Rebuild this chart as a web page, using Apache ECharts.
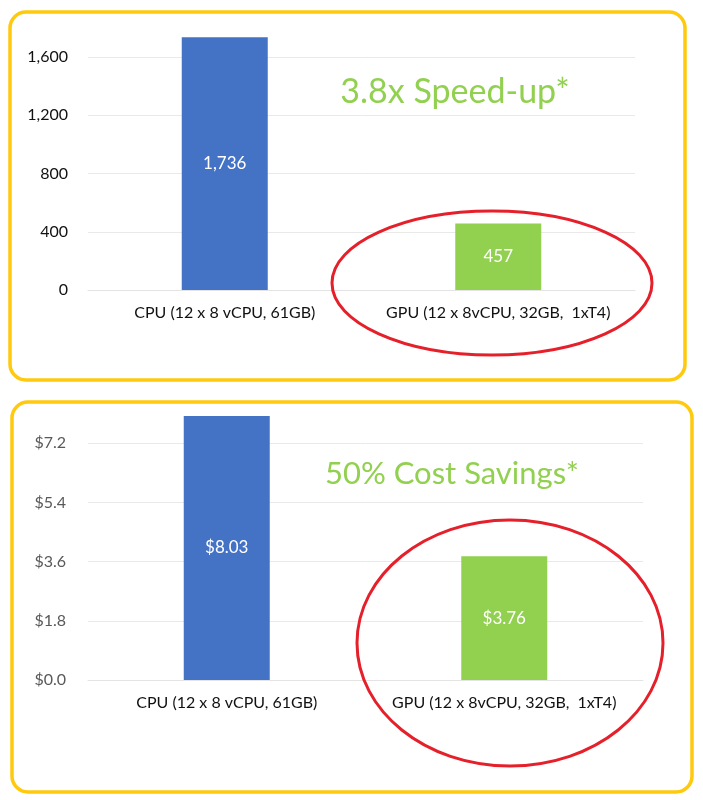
<!DOCTYPE html>
<html>
<head>
<meta charset="utf-8">
<title>CPU vs GPU</title>
<script src="https://cdn.jsdelivr.net/npm/echarts@6/dist/echarts.min.js"></script>
<style>
  html, body { margin: 0; padding: 0; background: #ffffff; }
  #main { width: 703px; height: 800px; }
</style>
</head>
<body>
<div id="main"></div>
<script>
// data
const categories = ["CPU (12 x 8 vCPU, 61GB)", "GPU (12 x 8vCPU, 32GB,  1xT4)"];
const runtimeValues = [1736, 457];
const costValues = [8.03, 3.76];
const barColors = ["#4472C4", "#92D050"];
const speedNote = "3.8x Speed-up*";
const costNote = "50% Cost Savings*";

const FONT = "Lato";
const gold = "#FFC90E";
const red = "#E5202A";

function barData(values) {
  return values.map((v, i) => ({ value: v, itemStyle: { color: barColors[i] } }));
}

const xAxisBase = {
  type: "category",
  data: categories,
  axisTick: { show: false },
  axisLine: { lineStyle: { color: "#e3e3e3", width: 1 } },
  axisLabel: {
    interval: 0,
    hideOverlap: false,
    color: "#111111",
    fontSize: 16,
    fontFamily: FONT,
    margin: 15,
  },
};

const yAxisBase = {
  type: "value",
  min: 0,
  axisLine: { show: false },
  axisTick: { show: false },
  splitLine: { showMaxLine: false, lineStyle: { color: "#e9e9e9", width: 1 } },
};

const myChart = echarts.init(document.getElementById("main"));
const option = {
  animation: false,
  grid: [
    { left: 88, right: 68, top: 28, bottom: 510 },
    { left: 88, right: 60, top: 384, bottom: 120 },
  ],
  xAxis: [
    Object.assign({ gridIndex: 0 }, xAxisBase),
    Object.assign({ gridIndex: 1 }, xAxisBase),
  ],
  yAxis: [
    Object.assign({}, yAxisBase, {
      gridIndex: 0,
      max: 1800,
      interval: 400,
      axisLabel: {
        showMaxLabel: false,
        color: "#111111",
        fontSize: 16,
        fontFamily: FONT,
        margin: 20,
        formatter: (v) => v.toLocaleString("en-US"),
      },
    }),
    Object.assign({}, yAxisBase, {
      gridIndex: 1,
      max: 9,
      interval: 1.8,
      axisLabel: {
        showMaxLabel: false,
        color: "#595959",
        fontSize: 16,
        fontFamily: FONT,
        margin: 22,
        formatter: (v) => "$" + v.toFixed(1),
      },
    }),
  ],
  series: [
    {
      type: "bar",
      xAxisIndex: 0,
      yAxisIndex: 0,
      barWidth: 86,
      data: barData(runtimeValues),
      label: {
        show: true,
        position: "inside",
        color: "#ffffff",
        fontSize: 17,
        fontFamily: FONT,
        formatter: (p) => p.value.toLocaleString("en-US"),
      },
    },
    {
      type: "bar",
      xAxisIndex: 1,
      yAxisIndex: 1,
      barWidth: 86,
      data: barData(costValues),
      label: {
        show: true,
        position: "inside",
        color: "#ffffff",
        fontSize: 17,
        fontFamily: FONT,
        formatter: (p) => "$" + p.value.toFixed(2),
      },
    },
  ],
  graphic: [
    // panel frames
    {
      type: "rect", z: 100,
      shape: { x: 10, y: 12, width: 675, height: 368, r: 16 },
      style: { fill: "none", stroke: gold, lineWidth: 3.5 },
    },
    {
      type: "rect", z: 100,
      shape: { x: 12, y: 402, width: 680, height: 390, r: 16 },
      style: { fill: "none", stroke: gold, lineWidth: 3.5 },
    },
    // highlight circles
    {
      type: "ellipse", z: 100,
      shape: { cx: 492, cy: 283, rx: 160, ry: 72 },
      style: { fill: "none", stroke: red, lineWidth: 3 },
    },
    {
      type: "ellipse", z: 100,
      shape: { cx: 510, cy: 643, rx: 153, ry: 123 },
      style: { fill: "none", stroke: red, lineWidth: 3 },
    },
    // notes
    {
      type: "text", z: 100, x: 455, y: 92,
      style: {
        text: speedNote, fill: "#92D050", fontSize: 34, fontFamily: FONT,
        align: "center", verticalAlign: "middle",
      },
    },
    {
      type: "text", z: 100, x: 452, y: 474,
      style: {
        text: costNote, fill: "#92D050", fontSize: 31, fontFamily: FONT,
        align: "center", verticalAlign: "middle",
      },
    },
  ],
};
myChart.setOption(option);
</script>
</body>
</html>
